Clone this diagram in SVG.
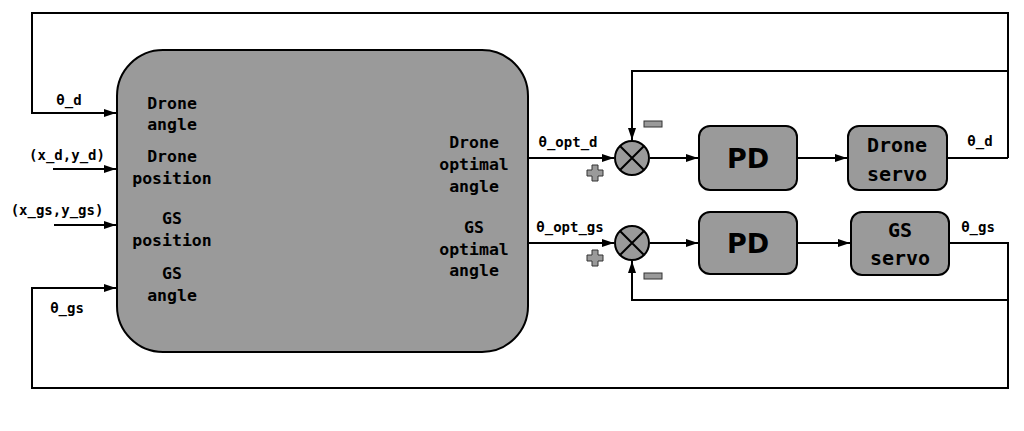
<svg xmlns="http://www.w3.org/2000/svg" width="1024" height="431" viewBox="0 0 1024 431">
<defs>
<marker id="ah" viewBox="0 0 12 10" refX="12" refY="5" markerWidth="12" markerHeight="10" markerUnits="userSpaceOnUse" orient="auto">
<path d="M0,1 L12,5 L0,9 Z" fill="#000"/>
</marker>
<style>
.box{fill:#9a9a9a;stroke:#000;stroke-width:2}
.ln{fill:none;stroke:#000;stroke-width:2}
.t{font-family:"DejaVu Sans Mono","Liberation Mono",monospace;font-weight:bold;fill:#000;text-anchor:middle}
.in{font-size:16.5px}
.lb{font-size:14px}
.pd{font-family:"DejaVu Sans","Liberation Sans",sans-serif;font-size:27px}
.sv{font-size:20px}
.sg{fill:#9a9a9a;stroke:#333;stroke-width:1}
</style>
</defs>
<rect width="1024" height="431" fill="#fff"/>
<g id="connectors">
<polyline class="ln" points="1008,158 1008,13 32,13 32,113 116,113" marker-end="url(#ah)"/>
<polyline class="ln" points="1008,71 632,71 632,140" marker-end="url(#ah)"/>
<polyline class="ln" points="948,158 1008,158"/>
<polyline class="ln" points="950,243 1008,243 1008,388 32,388 32,288 116,288" marker-end="url(#ah)"/>
<polyline class="ln" points="1008,300 632,300 632,261" marker-end="url(#ah)"/>
<line class="ln" x1="53" y1="169" x2="116" y2="169" marker-end="url(#ah)"/>
<line class="ln" x1="54" y1="225" x2="116" y2="225" marker-end="url(#ah)"/>
<line class="ln" x1="528" y1="158" x2="614" y2="158" marker-end="url(#ah)"/>
<line class="ln" x1="528" y1="243" x2="614" y2="243" marker-end="url(#ah)"/>
<line class="ln" x1="650" y1="158" x2="698" y2="158" marker-end="url(#ah)"/>
<line class="ln" x1="650" y1="243" x2="698" y2="243" marker-end="url(#ah)"/>
<line class="ln" x1="798" y1="158" x2="847" y2="158" marker-end="url(#ah)"/>
<line class="ln" x1="798" y1="243" x2="850" y2="243" marker-end="url(#ah)"/>
<text class="t lb" x="69" y="105">θ_d</text>
<text class="t lb" x="67" y="160">(x_d,y_d)</text>
<text class="t lb" x="57" y="215">(x_gs,y_gs)</text>
<text class="t lb" x="67" y="313">θ_gs</text>
<text class="t lb" x="568" y="147">θ_opt_d</text>
<text class="t lb" x="570" y="232">θ_opt_gs</text>
<text class="t lb" x="980" y="146">θ_d</text>
<text class="t lb" x="978" y="232">θ_gs</text>
</g>
<g id="main">
<rect class="box" x="117" y="50" width="411" height="302" rx="46" ry="46"/>
<text class="t in" x="172" y="109">Drone</text>
<text class="t in" x="172" y="130">angle</text>
<text class="t in" x="172" y="162">Drone</text>
<text class="t in" x="172" y="184">position</text>
<text class="t in" x="172" y="224">GS</text>
<text class="t in" x="172" y="246">position</text>
<text class="t in" x="172" y="279">GS</text>
<text class="t in" x="172" y="301">angle</text>
<text class="t in" x="474" y="148">Drone</text>
<text class="t in" x="474" y="170">optimal</text>
<text class="t in" x="474" y="192">angle</text>
<text class="t in" x="474" y="233">GS</text>
<text class="t in" x="474" y="255">optimal</text>
<text class="t in" x="474" y="276">angle</text>
</g>
<g id="sum1">
<circle class="box" cx="632" cy="158" r="17"/>
<path class="ln" d="M620,146 L644,170 M644,146 L620,170"/>
<path class="sg" d="M592,165 h6 v5 h5 v6 h-5 v5 h-6 v-5 h-5 v-6 h5 Z"/>
<rect class="sg" x="644" y="121" width="18" height="6"/>
</g>
<g id="sum2">
<circle class="box" cx="632" cy="243" r="17"/>
<path class="ln" d="M620,231 L644,255 M644,231 L620,255"/>
<path class="sg" d="M592,250 h6 v5 h5 v6 h-5 v5 h-6 v-5 h-5 v-6 h5 Z"/>
<rect class="sg" x="644" y="273" width="18" height="6"/>
</g>
<g id="pd1">
<rect class="box" x="699" y="126" width="98" height="64" rx="11"/>
<text class="t pd" x="748" y="168">PD</text>
</g>
<g id="servo1">
<rect class="box" x="848" y="126" width="99" height="64" rx="11"/>
<text class="t sv" x="897" y="152">Drone</text>
<text class="t sv" x="897" y="181">servo</text>
</g>
<g id="pd2">
<rect class="box" x="699" y="212" width="98" height="62" rx="11"/>
<text class="t pd" x="748" y="253">PD</text>
</g>
<g id="servo2">
<rect class="box" x="851" y="212" width="98" height="63" rx="11"/>
<text class="t sv" x="900" y="237">GS</text>
<text class="t sv" x="900" y="265">servo</text>
</g>
</svg>
